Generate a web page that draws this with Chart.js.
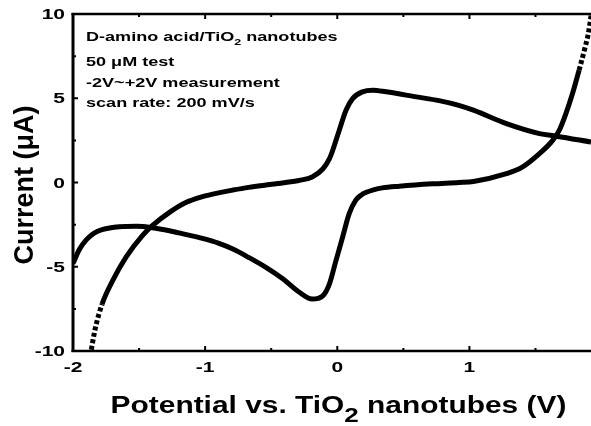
<!DOCTYPE html>
<html><head><meta charset="utf-8">
<script src="https://cdn.jsdelivr.net/npm/chart.js@4/dist/chart.umd.min.js"></script>
<style>html,body{margin:0;background:#fff}#wrap{width:591px;height:426px}</style>
</head><body><div id="wrap"><canvas id="cv"></canvas></div>
<script>
// upper sweep: oxidation peak near +0.27 V
const upperV=[-1.87,-1.83,-1.78,-1.70,-1.60,-1.475,-1.40,-1.27,-1.15,-1.02,-0.89,-0.79,-0.67,-0.54,-0.39,-0.29,-0.19,-0.11,-0.06,-0.035,0.015,0.066,0.116,0.19,0.27,0.37,0.60,0.77,0.92,1.03,1.28,1.53,1.66,1.92];
const upperI=[-10.3,-8.61,-7.22,-5.83,-4.44,-3.15,-2.56,-1.77,-1.20,-0.84,-0.60,-0.45,-0.29,-0.15,0.00,0.12,0.33,0.80,1.40,1.90,3.10,4.29,4.98,5.38,5.48,5.38,5.08,4.86,4.58,4.29,3.49,2.90,2.75,2.40];
// lower sweep: reduction peak near -0.19 V
const lowerV=[-2.00,-1.95,-1.90,-1.84,-1.78,-1.65,-1.52,-1.40,-1.27,-1.15,-1.02,-0.90,-0.79,-0.67,-0.54,-0.41,-0.29,-0.19,-0.11,-0.06,-0.01,0.04,0.09,0.14,0.18,0.22,0.28,0.34,0.47,0.72,0.92,1.03,1.28,1.40,1.53,1.63,1.68,1.73,1.78,1.83,1.87,1.90,1.915,1.93];
const lowerI=[-4.80,-3.95,-3.40,-3.00,-2.80,-2.63,-2.60,-2.68,-2.86,-3.08,-3.32,-3.60,-3.95,-4.45,-5.04,-5.73,-6.50,-6.92,-6.73,-6.03,-4.64,-3.25,-1.85,-1.05,-0.75,-0.58,-0.42,-0.32,-0.22,-0.08,0.00,0.06,0.52,0.91,1.71,2.50,3.10,4.09,5.28,6.67,7.86,8.85,9.60,10.4];

const xTicks=[-2,-1,0,1], xMinor=[-1.5,-0.5,0.5,1.5];
const yTicks=[-10,-5,0,5,10], yMinor=[-7.5,-2.5,2.5,7.5];
// odd entries are subscripts
const notes=[['D-amino acid/TiO','2',' nanotubes'],['50 μM test'],['-2V~+2V measurement'],['scan rate: 200 mV/s']];
const xTitle=['Potential vs. TiO','2',' nanotubes (V)'];
const yTitle='Current (μA)';

const FONT='"Liberation Sans",Arial,sans-serif';
function rich(ctx,parts,x,y,size,sx,align,subSize,subDy){
  const w=parts.map((p,i)=>{ctx.font=`bold ${i%2?subSize:size}px ${FONT}`;return ctx.measureText(p).width*sx;});
  const total=w.reduce((a,b)=>a+b,0);
  let cx=align==='center'?x-total/2:align==='right'?x-total:x;
  parts.forEach((p,i)=>{
    ctx.font=`bold ${i%2?subSize:size}px ${FONT}`;
    ctx.save();ctx.translate(cx,y+(i%2?subDy:0));ctx.scale(sx,1);
    ctx.textAlign='left';ctx.textBaseline='alphabetic';ctx.fillText(p,0,0);ctx.restore();
    cx+=w[i];
  });
}

const frame={id:'frame',afterDraw(chart){
  const {ctx,chartArea:a,scales:{x,y}}=chart;
  ctx.save();ctx.strokeStyle='#000';ctx.fillStyle='#000';
  // axes: left, bottom, top
  ctx.lineWidth=3;ctx.beginPath();ctx.moveTo(a.left,a.top-1);ctx.lineTo(a.left,a.bottom+1);ctx.stroke();
  ctx.lineWidth=2.5;ctx.beginPath();ctx.moveTo(a.left-1.5,a.bottom);ctx.lineTo(a.right,a.bottom);
  ctx.moveTo(a.left-1.5,a.top);ctx.lineTo(a.right,a.top);ctx.stroke();
  // inward ticks
  ctx.lineWidth=2;ctx.beginPath();
  const xt=(v,len)=>{const p=x.getPixelForValue(v);ctx.moveTo(p,a.bottom);ctx.lineTo(p,a.bottom-len);ctx.moveTo(p,a.top);ctx.lineTo(p,a.top+len);};
  const yt=(v,len)=>{const p=y.getPixelForValue(v);ctx.moveTo(a.left,p);ctx.lineTo(a.left+len,p);};
  xTicks.forEach(v=>xt(v,5));xMinor.forEach(v=>xt(v,3));
  yTicks.forEach(v=>yt(v,5));yMinor.forEach(v=>yt(v,3));
  ctx.stroke();
  // tick labels
  yTicks.forEach(v=>rich(ctx,[String(v)],a.left-8,y.getPixelForValue(v)+5,14,1.5,'right'));
  xTicks.forEach(v=>rich(ctx,[String(v)],x.getPixelForValue(v),372,14,1.5,'center'));
  // titles
  rich(ctx,xTitle,338.5,413,23,1.3,'center',20,9);
  ctx.save();ctx.translate(32.5,185);ctx.rotate(-Math.PI/2);
  ctx.font=`bold 27px ${FONT}`;ctx.textAlign='center';ctx.textBaseline='alphabetic';ctx.fillText(yTitle,0,0);ctx.restore();
  // annotation block
  [41,66,87,107].forEach((b,i)=>rich(ctx,notes[i],86,b,13,1.39,'left',9,4));
  ctx.restore();
}};

const pts=(xs,ys)=>xs.map((v,i)=>({x:v,y:ys[i]}));
new Chart(document.getElementById('cv'),{
  type:'line',
  data:{datasets:[
    {data:pts(upperV,upperI),borderColor:'#000',borderWidth:5,pointRadius:0,borderJoinStyle:'round',
     cubicInterpolationMode:'monotone',segment:{borderDash:c=>c.p1.parsed.y<-7?[4,2.5]:undefined}},
    {data:pts(lowerV,lowerI),borderColor:'#000',borderWidth:5,pointRadius:0,borderJoinStyle:'round',
     cubicInterpolationMode:'monotone',segment:{borderDash:c=>c.p0.parsed.y>5.5?[4,2.5]:undefined}}
  ]},
  options:{animation:false,responsive:true,maintainAspectRatio:false,
    layout:{padding:{left:73,right:0,top:14,bottom:75}},
    scales:{x:{type:'linear',min:-2,max:1.92,display:false},y:{min:-10,max:10,display:false}},
    plugins:{legend:{display:false},tooltip:{enabled:false}}},
  plugins:[frame]
});
</script></body></html>
